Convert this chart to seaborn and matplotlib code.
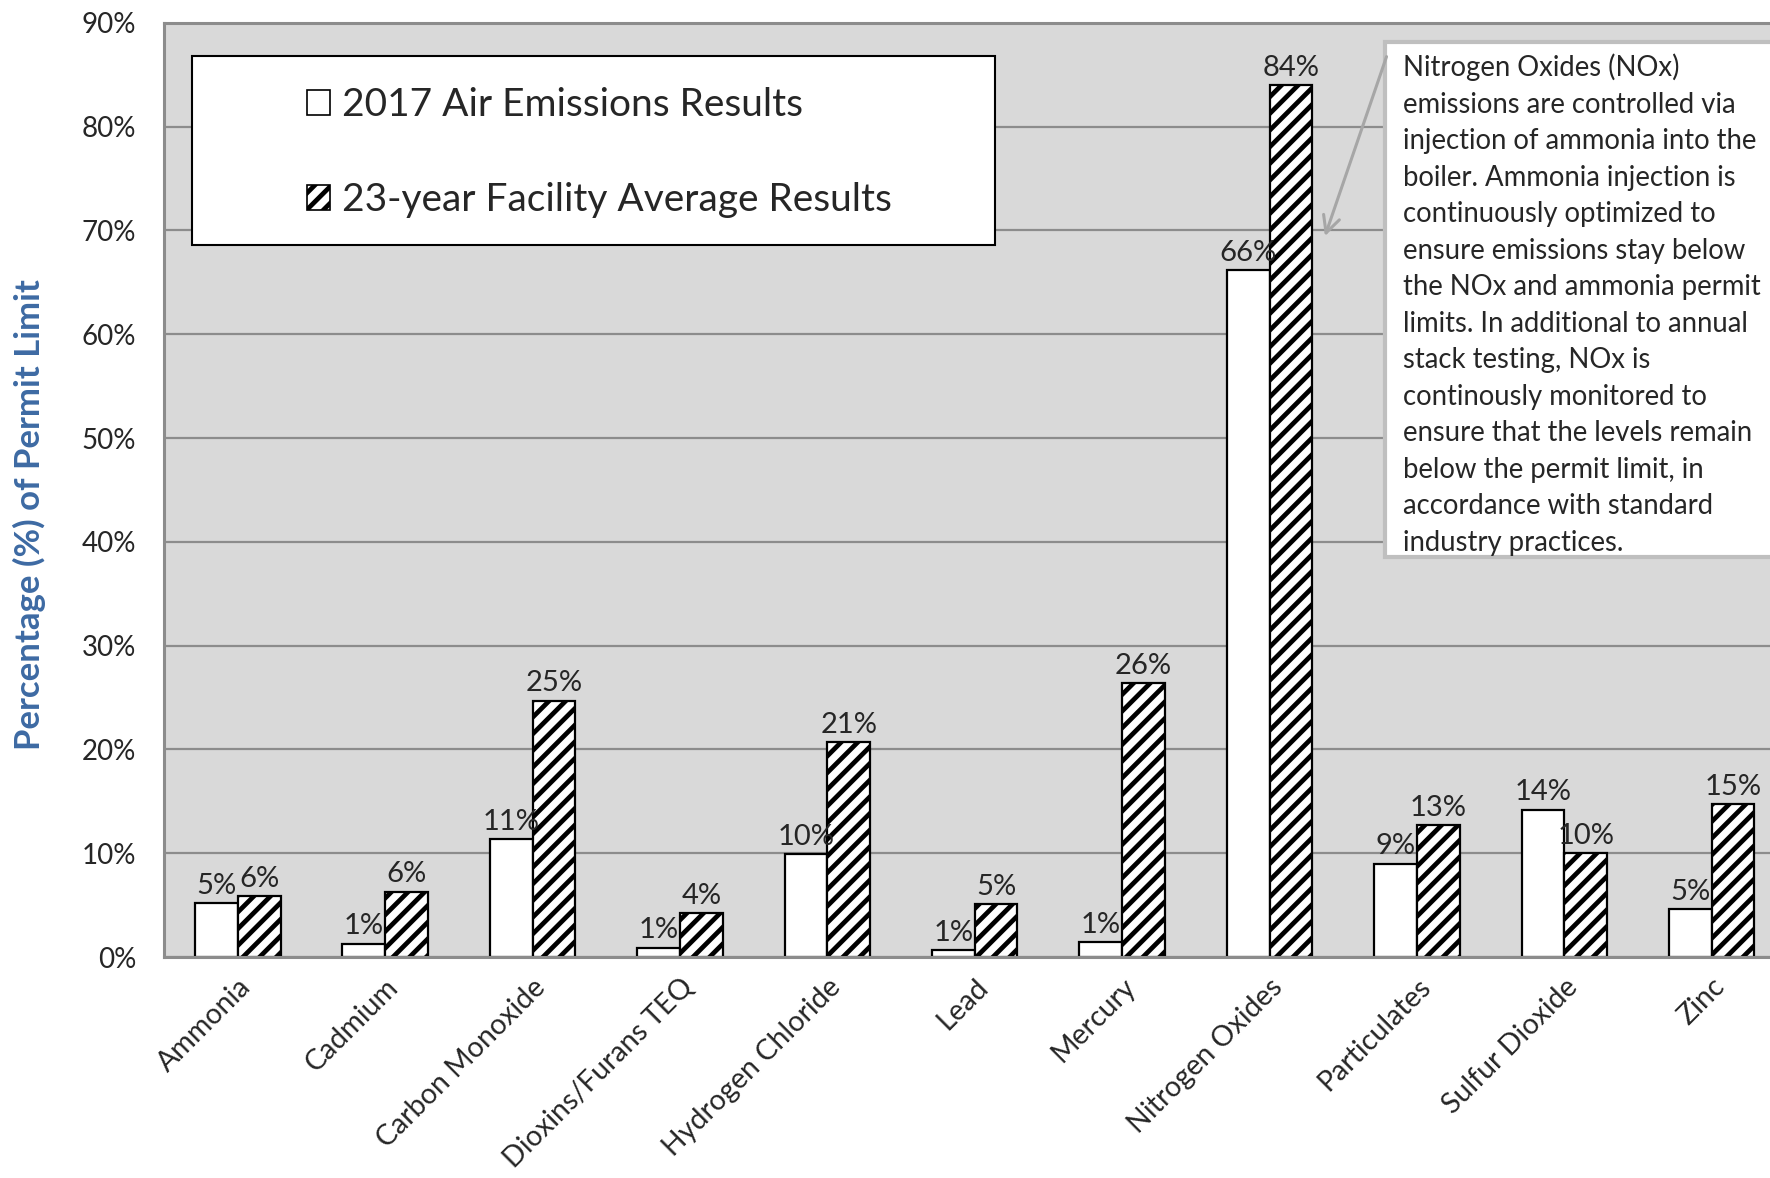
import seaborn as sns
import pandas as pd
import matplotlib.pyplot as plt
from matplotlib.patches import Rectangle, Patch
from matplotlib.ticker import MultipleLocator, FuncFormatter

pollutants = [
    "Ammonia", "Cadmium", "Carbon Monoxide", "Dioxins/Furans TEQ",
    "Hydrogen Chloride", "Lead", "Mercury", "Nitrogen Oxides",
    "Particulates", "Sulfur Dioxide", "Zinc",
]
results_2017 = [5.2, 1.3, 11.4, 0.9, 9.9, 0.7, 1.4, 66.2, 9.0, 14.2, 4.6]
average_23yr = [5.9, 6.3, 24.7, 4.2, 20.7, 5.1, 26.4, 84.0, 12.7, 10.0, 14.7]
series_names = ["2017 Air Emissions Results", "23-year Facility Average Results"]

note = (
    "Nitrogen Oxides (NOx)\n"
    "emissions are controlled via\n"
    "injection of ammonia into the\n"
    "boiler. Ammonia injection is\n"
    "continuously optimized to\n"
    "ensure emissions stay below\n"
    "the NOx and ammonia permit\n"
    "limits. In additional to annual\n"
    "stack testing, NOx is\n"
    "continously monitored to\n"
    "ensure that the levels remain\n"
    "below the permit limit, in\n"
    "accordance with standard\n"
    "industry practices."
)

df = pd.DataFrame({
    "pollutant": pollutants * 2,
    "value": results_2017 + average_23yr,
    "series": [series_names[0]] * len(pollutants) + [series_names[1]] * len(pollutants),
})

sns.set_style("white")
plt.rcParams["font.family"] = ["Lato", "DejaVu Sans"]
plt.rcParams["hatch.linewidth"] = 3.4

grid_gray = "#8c8c8c"

fig = plt.figure(figsize=(17.7, 11.78), dpi=100)
ax = fig.add_axes([0.0927, 0.1876, 0.916, 0.793])
ax.set_facecolor("#d9d9d9")

sns.barplot(
    data=df, x="pollutant", y="value", hue="series",
    palette=["white", "white"], saturation=1, width=0.58,
    edgecolor="black", linewidth=1.6, legend=False, ax=ax,
)
for bar in ax.containers[1]:
    bar.set_hatch("//")

for cont in ax.containers:
    ax.bar_label(cont, labels=[f"{b.get_height():.0f}%" for b in cont],
                 padding=3, fontsize=21)

ax.set_xlim(-0.5, 10.5)
ax.set_ylim(0, 90)
ax.yaxis.set_major_locator(MultipleLocator(10))
ax.yaxis.set_major_formatter(FuncFormatter(lambda v, pos: f"{v:.0f}%"))
ax.set_axisbelow(True)
ax.grid(axis="y", color=grid_gray, linewidth=1.6)

for side in ["left", "bottom", "top"]:
    ax.spines[side].set_color(grid_gray)
    ax.spines[side].set_linewidth(2.2)
ax.spines["right"].set_visible(False)

ax.tick_params(axis="y", length=6, width=1.6, color=grid_gray, pad=14, labelsize=20)
ax.tick_params(axis="x", length=0, pad=12)
ax.set_xticks(range(len(pollutants)))
ax.set_xticklabels(pollutants, rotation=45, ha="right", rotation_mode="anchor",
                   fontsize=20.5)

ax.set_xlabel("")
ax.set_ylabel("Percentage (%) of Permit Limit", fontsize=25, fontweight="bold",
              color="#3d6aa3")
ax.yaxis.set_label_coords(-0.073, 0.474)

# legend box
ax.add_patch(Rectangle((0.0173, 0.7627), 0.495, 0.202, transform=ax.transAxes,
                       facecolor="white", edgecolor="black", linewidth=1.5,
                       zorder=4))
handles = [
    Patch(facecolor="white", edgecolor="black", linewidth=1.2),
    Patch(facecolor="white", edgecolor="black", linewidth=1.2, hatch="//"),
]
leg = ax.legend(handles, series_names, loc="upper left",
                bbox_to_anchor=(0.076, 0.952), frameon=False, fontsize=28,
                handlelength=0.6, handleheight=0.6, handletextpad=0.3,
                labelspacing=1.52, borderpad=0)
leg.set_zorder(5)

# NOx note box
ax.add_patch(Rectangle((0.753, 0.428), 0.3, 0.552, transform=ax.transAxes,
                       facecolor="white", edgecolor="#bfbfbf", linewidth=3,
                       zorder=4, clip_on=False))
ax.text(0.7643, 0.967, note, transform=ax.transAxes, ha="left", va="top",
        fontsize=19.8, linespacing=1.5, zorder=5)
ax.annotate("", xy=(7.37, 69.2), xytext=(7.80, 87.0),
            arrowprops=dict(arrowstyle="->", color="#a6a6a6", lw=2.2,
                            mutation_scale=30), zorder=5)

plt.savefig("out.png", dpi=100)
